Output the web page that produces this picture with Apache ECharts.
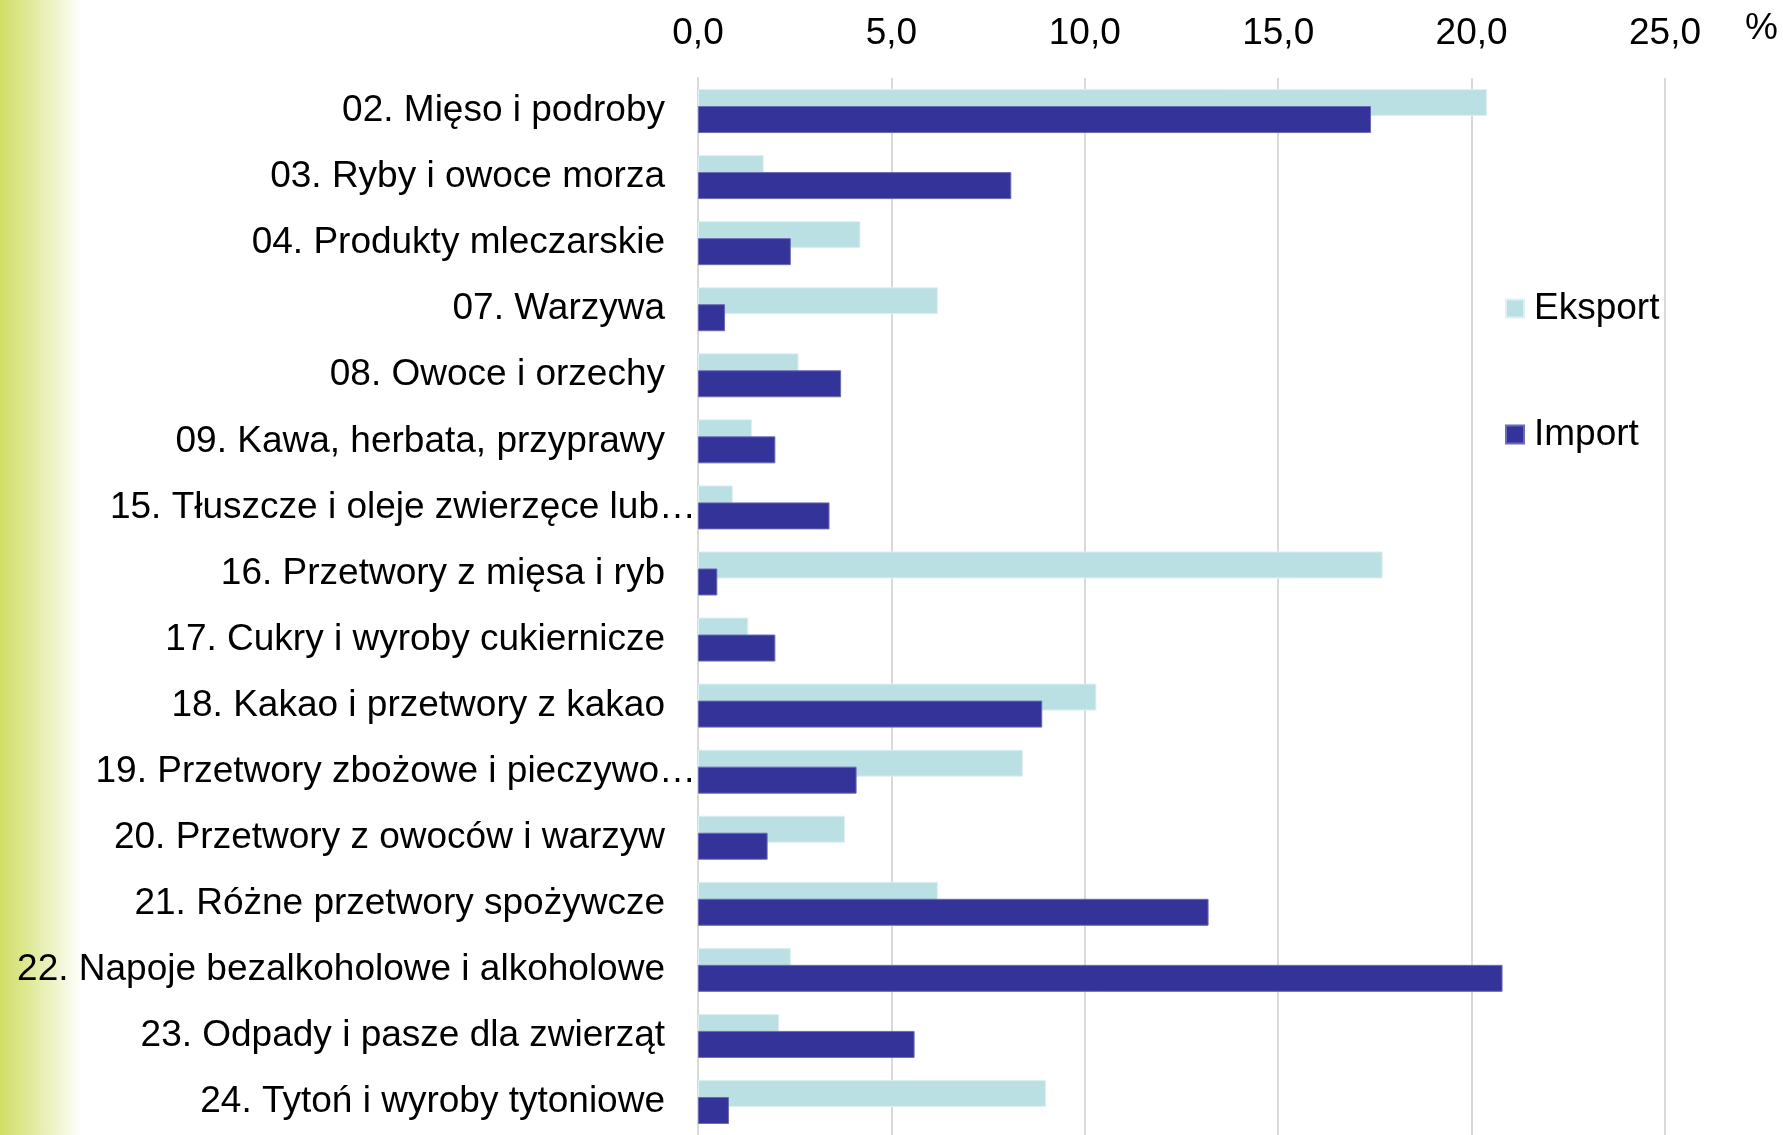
<!DOCTYPE html>
<html>
    <head>
        <meta charset="utf-8">
        <title>Eksport i import</title>
        <script src="https://cdn.jsdelivr.net/npm/echarts@6/dist/echarts.min.js"></script>
        <style>
            html, body { margin: 0; padding: 0; background: #fff; }
            #bar { width: 1783px; height: 1135px; }
        </style>
    </head>
    <body>
        <div id="bar"></div>
    </body>
    <script type="text/javascript">
        // dane
        var categories = [
            '02. Mięso i podroby',
            '03. Ryby i owoce morza',
            '04. Produkty mleczarskie',
            '07. Warzywa',
            '08. Owoce i orzechy',
            '09. Kawa, herbata, przyprawy',
            '15. Tłuszcze i oleje zwierzęce lub…',
            '16. Przetwory z mięsa i ryb',
            '17. Cukry i wyroby cukiernicze',
            '18. Kakao i przetwory z kakao',
            '19. Przetwory zbożowe i pieczywo…',
            '20. Przetwory z owoców i warzyw',
            '21. Różne przetwory spożywcze',
            '22. Napoje bezalkoholowe i alkoholowe',
            '23. Odpady i pasze dla zwierząt',
            '24. Tytoń i wyroby tytoniowe'
        ];
        var eksport = [20.4, 1.7, 4.2, 6.2, 2.6, 1.4, 0.9, 17.7, 1.3, 10.3, 8.4, 3.8, 6.2, 2.4, 2.1, 9.0];
        var imports = [17.4, 8.1, 2.4, 0.7, 3.7, 2.0, 3.4, 0.5, 2.0, 8.9, 4.1, 1.8, 13.2, 20.8, 5.6, 0.8];
        var seriesNames = ['Eksport', 'Import'];
        var xMin = 0, xMax = 25, xStep = 5;

        var font = '"Liberation Sans", Arial, sans-serif';
        var fs = 37;
        var myChart = echarts.init(document.getElementById('bar'));

        myChart.setOption({
            backgroundColor: '#ffffff',
            textStyle: { fontFamily: font },
            animation: false,
            grid: { left: 698, right: 118, top: 78, bottom: -4, containLabel: false },
            legend: {
                data: seriesNames,
                orient: 'vertical',
                left: 1500,
                top: 285,
                itemGap: 89,
                itemWidth: 18,
                itemHeight: 18,
                icon: 'rect',
                textStyle: { fontSize: fs, color: '#000', fontFamily: font, padding: [0, 0, 0, 5] }
            },
            xAxis: {
                type: 'value',
                position: 'top',
                min: xMin,
                max: xMax,
                interval: xStep,
                axisLine: { show: false },
                axisTick: { show: false },
                splitLine: { lineStyle: { color: '#d9d9d9', width: 2 } },
                axisLabel: {
                    margin: 26,
                    fontSize: fs,
                    color: '#000',
                    fontFamily: font,
                    formatter: function (v) { return v.toFixed(1).replace('.', ','); }
                }
            },
            yAxis: {
                type: 'category',
                data: categories,
                inverse: true,
                axisLine: { show: true, lineStyle: { color: '#d9d9d9', width: 2 } },
                axisTick: { show: false },
                axisLabel: {
                    margin: 2,
                    fontSize: fs,
                    color: '#000',
                    fontFamily: font,
                    formatter: function (v) {
                        // obcięte etykiety sięgają do osi
                        return v.indexOf('…') >= 0 ? '{t|' + v + '}' : '{n|' + v + '}';
                    },
                    rich: {
                        n: { fontSize: fs, color: '#000', fontFamily: font, padding: [0, 31, 0, 0] },
                        t: { fontSize: fs, color: '#000', fontFamily: font }
                    }
                }
            },
            graphic: [
                {
                    type: 'rect',
                    z: -10,
                    shape: { x: 0, y: 0, width: 82, height: 1135 },
                    style: {
                        fill: new echarts.graphic.LinearGradient(0, 0, 1, 0, [
                            { offset: 0, color: '#d2de66' },
                            { offset: 0.3, color: '#dde78f' },
                            { offset: 1, color: '#ffffff' }
                        ])
                    }
                },
                {
                    type: 'text',
                    left: 1745,
                    top: 10,
                    style: { text: '%', fill: '#000', font: fs + 'px ' + font }
                }
            ],
            series: [
                {
                    name: seriesNames[0],
                    type: 'bar',
                    data: eksport,
                    barWidth: 27,
                    barGap: '-37%',
                    itemStyle: { color: '#bbe0e3', borderColor: '#dff0f1', borderWidth: 1 }
                },
                {
                    name: seriesNames[1],
                    type: 'bar',
                    data: imports,
                    barWidth: 27,
                    barGap: '-37%',
                    itemStyle: { color: '#333399', borderColor: '#6a6ab5', borderWidth: 1 }
                }
            ]
        });
    </script>
</html>
